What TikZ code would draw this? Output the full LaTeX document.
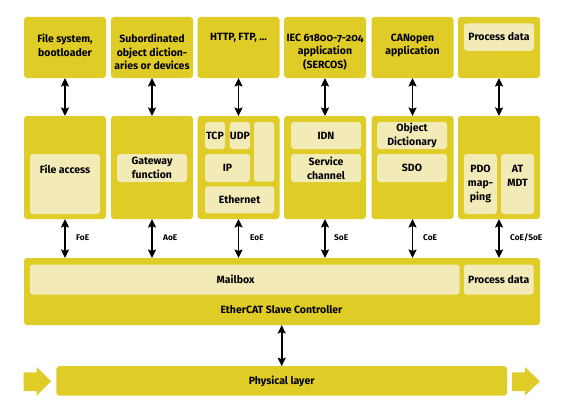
\documentclass[tikz,border=0pt]{standalone}
\usepackage{fontspec}
\setmainfont{Fira Sans}[Numbers=OldStyle]
\usetikzlibrary{arrows.meta}
\definecolor{ecy}{RGB}{223,204,38}
\definecolor{ecl}{RGB}{242,235,184}
\begin{document}
\begin{tikzpicture}[x=1pt,y=-1pt,
  box/.style={fill=ecy, rounded corners=3pt, inner sep=0pt, outer sep=0pt, anchor=north west},
  inbox/.style={fill=ecl, rounded corners=3pt, inner sep=0pt, outer sep=0pt, anchor=north west, align=center, font=\txtfont},
  txt/.style={inner sep=0pt, align=center, font=\txtfont},
  ttxt/.style={txt, anchor=north},
  lbl/.style={inner sep=0pt, anchor=west, font=\bfseries\fontsize{8.3}{10}\selectfont},
  dbl/.style={line width=1.8pt, {Stealth[length=8.5pt,width=8pt,inset=1.5pt]}-{Stealth[length=8.5pt,width=8pt,inset=1.5pt]}}]
\newcommand\txtfont{\bfseries\fontsize{10.5}{13.8}\selectfont}
\useasboundingbox (0,0) rectangle (569,412);
% top row
\node[box, minimum width=82pt, minimum height=61pt] (t1) at (24,17) {};
\node[box, minimum width=82pt, minimum height=61pt] (t2) at (111,17) {};
\node[box, minimum width=82pt, minimum height=61pt] (t3) at (197.5,17) {};
\node[box, minimum width=82pt, minimum height=61pt] (t4) at (284,17) {};
\node[box, minimum width=82pt, minimum height=61pt] (t5) at (371.5,17) {};
\node[box, minimum width=82pt, minimum height=61pt] (t6) at (458,17) {};
\node[ttxt] (t1x) at (65,33.5) {File system,\\bootloader};
\node[ttxt] (t2x) at (152,33.5) {Subordinated\\object diction-\\aries or devices};
\node[ttxt] (t3x) at (238.5,33.5) {HTTP, FTP, ...};
\node[ttxt] (t4x) at (325,33.5) {IEC 61800-7-204\\application\\(SERCOS)};
\node[ttxt] (t5x) at (412.5,33.5) {CANopen\\application};
\node[inbox, minimum width=70pt, minimum height=27.5pt] (t6p) at (464,23.3) {Process data};
% middle row
\node[box, minimum width=82pt, minimum height=103pt] (m1) at (24,116) {};
\node[box, minimum width=82pt, minimum height=103pt] (m2) at (111,116) {};
\node[box, minimum width=82pt, minimum height=103pt] (m3) at (197.5,116) {};
\node[box, minimum width=82pt, minimum height=103pt] (m4) at (284,116) {};
\node[box, minimum width=82pt, minimum height=103pt] (m5) at (371.5,116) {};
\node[box, minimum width=82pt, minimum height=103pt] (m6) at (458,116) {};
% col1
\node[inbox, minimum width=70pt, minimum height=60pt] (fa) at (30,154) {};
\node[ttxt] (fax) at (65,165) {File access};
% col2
\node[inbox, minimum width=70pt, minimum height=28pt] (gw) at (117,154) {Gateway\\function};
% col3
\node[inbox, minimum width=20pt, minimum height=27pt] (tcp) at (205,122) {TCP};
\node[inbox, minimum width=20.5pt, minimum height=27pt] (udp) at (229.7,122) {UDP};
\node[inbox, minimum width=20.3pt, minimum height=59.7pt] (oth) at (254,122) {};
\node[inbox, minimum width=45pt, minimum height=28pt] (ip) at (205,154) {IP};
\node[inbox, minimum width=69.3pt, minimum height=27pt] (eth) at (205,186.3) {Ethernet};
% col4
\node[inbox, minimum width=70pt, minimum height=27pt] (idn) at (291,122) {IDN};
\node[inbox, minimum width=70pt, minimum height=28pt] (sc) at (291,154) {Service\\channel};
% col5
\node[inbox, minimum width=70pt, minimum height=27pt] (od) at (377,122) {Object\\Dictionary};
\node[inbox, minimum width=70pt, minimum height=28pt] (sdo) at (377,154) {SDO};
% col6
\node[inbox, minimum width=33pt, minimum height=60pt] (pdo) at (464,154) {};
\node[inbox, minimum width=33pt, minimum height=60pt] (at) at (501,154) {};
\node[ttxt] (pdox) at (480.5,164.8) {PDO\\map-\\ping};
\node[ttxt] (atx) at (517.5,164.8) {AT\\MDT};
% ESC
\node[box, minimum width=516pt, minimum height=67pt] (esc) at (24,258) {};
\node[inbox, minimum width=429.7pt, minimum height=30.2pt] (mb) at (29.8,264.5) {};
\node[txt] (mbx) at (235.6,279.6) {Mailbox};
\node[inbox, minimum width=69.7pt, minimum height=30.2pt] (pd) at (463.9,264.5) {Process data};
\node[txt] (escx) at (281.5,310) {EtherCAT Slave Controller};
% physical
\node[box, minimum width=450.8pt, minimum height=29.5pt, font=\txtfont] (phy) at (56.3,366.2) {Physical layer};
\fill[ecy] (23.6,372.4) -- (36.7,372.4) -- (36.7,367) -- (51.2,381.3) -- (36.7,395.6) -- (36.7,391) -- (23.6,391) -- cycle;
\fill[ecy] (511.8,372.4) -- (525,372.4) -- (525,367) -- (539.8,381.3) -- (525,395.6) -- (525,391) -- (511.8,391) -- cycle;
% arrows
\foreach \i in {1,...,6}{\draw[dbl] (t\i.south) -- (m\i.north);}
\foreach \i/\x in {1/65,2/152,3/238.5,4/325,5/412.5,6/499}{
  \coordinate (e\i) at (\x,258);
  \draw[dbl] (m\i.south) -- (e\i);}
\draw[dbl] (esc.south -| phy.north) -- (phy.north);
\node[lbl] (l1) at (76,238) {FoE};
\node[lbl] (l2) at (163,238) {AoE};
\node[lbl] (l3) at (250,238) {EoE};
\node[lbl] (l4) at (334,238) {SoE};
\node[lbl] (l5) at (423,238) {CoE};
\node[lbl] (l6) at (510,238) {CoE/SoE};
\end{tikzpicture}
\end{document}
